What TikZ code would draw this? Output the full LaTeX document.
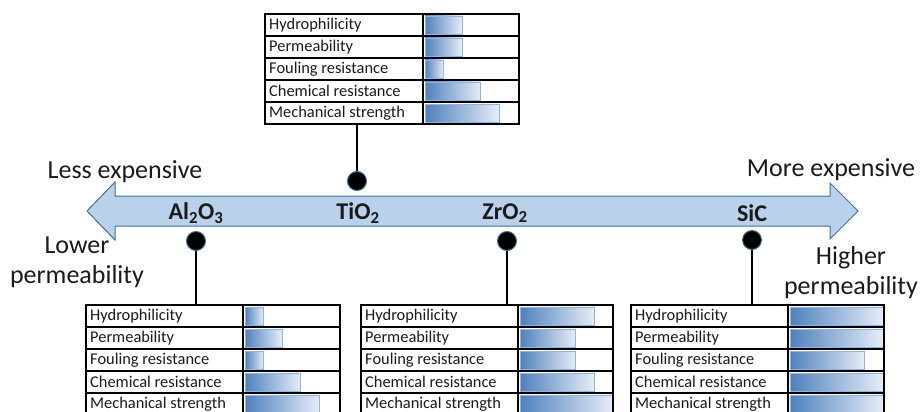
\documentclass[tikz,border=0pt]{standalone}
\usepackage{fontspec}
\setmainfont{Carlito}
\usepackage{xcolor}
\definecolor{afill}{HTML}{B9D1EA}
\definecolor{aedge}{HTML}{41719C}
\definecolor{bdark}{HTML}{4F81BD}
\definecolor{blight}{HTML}{E6EDF7}
\definecolor{bedge}{HTML}{8EB4E3}
\definecolor{ttext}{HTML}{1A1A1A}

\begin{document}
\begin{tikzpicture}[x=1pt, y=-1pt,
	cell/.style = {anchor = west, inner sep = 0pt, text = ttext, font = \fontsize{16.4}{18}\selectfont},
	bar/.style = {draw = bedge, line width = .8pt, left color = bdark, right color = blight},
	grid/.style = {draw = black, line width = 1.3pt},
	dot/.style = {circle, fill = black, draw = aedge, line width = 1pt, minimum size = 19pt, inner sep = 0pt},
	mat/.style = {inner sep = 0pt, text = ttext, font = \fontsize{24}{26}\selectfont\bfseries},
	side/.style = {inner sep = 0pt, text = ttext, align = center, font = \fontsize{26}{30}\selectfont},
	stem/.style = {draw = black, line width = 1.5pt}]
		\useasboundingbox (0,0) rectangle (921,412);
		\clip (0,0) rectangle (921,412);

		% cost / permeability axis
		\draw[draw = aedge, fill = afill, line width = 1pt] (87,211) -- (115,182) -- (115,196) -- (830,196) -- (830,183) -- (858,211) -- (830,239) -- (830,226) -- (115,226) -- (115,240) -- cycle;
		\node[side] (less) at (125,172) {Less expensive};
		\node[side] (more) at (831,170) {More expensive};
		\node[side] (lower) at (77,262) {Lower\\permeability};
		\node[side] (higher) at (851,273) {Higher\\permeability};

		% materials
		\node[mat] (al) at (196,213) {Al\textsubscript{2}O\textsubscript{3}};
		\node[mat] (ti) at (358,213) {TiO\textsubscript{2}};
		\node[mat] (zr) at (505,213) {ZrO\textsubscript{2}};
		\node[mat] (sic) at (752,213) {SiC};

		% TiO2 table
		\foreach \lab/\n [count=\i] in {Hydrophilicity/2, Permeability/2, Fouling resistance/1, Chemical resistance/3, Mechanical strength/4} {
			\node[cell] (ti\i) at (269, 3+22*\i) {\lab};
			\draw[bar] (425, -6+22*\i) rectangle ++(18.6*\n, 18);
		}
		\draw[grid] (265,14) rectangle (519,124);
		\draw[grid] (423,14) -- (423,124);
		\foreach \y in {36,58,80,102} \draw[grid] (265,\y) -- (519,\y);
		\coordinate (tiT) at (357,124);

		% Al2O3 table
		\foreach \lab/\n [count=\i] in {Hydrophilicity/1, Permeability/2, Fouling resistance/1, Chemical resistance/3, Mechanical strength/4} {
			\node[cell] (al\i) at (90, 294+22*\i) {\lab};
			\draw[bar] (245, 285+22*\i) rectangle ++(18.6*\n, 18);
		}
		\draw[grid] (86,305) rectangle (340,415);
		\draw[grid] (243,305) -- (243,415);
		\foreach \y in {327,349,371,393} \draw[grid] (86,\y) -- (340,\y);
		\coordinate (alT) at (196,305);

		% ZrO2 table
		\foreach \lab/\n [count=\i] in {Hydrophilicity/4, Permeability/3, Fouling resistance/3, Chemical resistance/4, Mechanical strength/5} {
			\node[cell] (zr\i) at (365, 294+22*\i) {\lab};
			\draw[bar] (520, 285+22*\i) rectangle ++(18.6*\n, 18);
		}
		\draw[grid] (361,305) rectangle (613,415);
		\draw[grid] (518,305) -- (518,415);
		\foreach \y in {327,349,371,393} \draw[grid] (361,\y) -- (613,\y);
		\coordinate (zrT) at (507,305);

		% SiC table
		\foreach \lab/\n [count=\i] in {Hydrophilicity/5, Permeability/5, Fouling resistance/4, Chemical resistance/5, Mechanical strength/5} {
			\node[cell] (sic\i) at (635, 294+22*\i) {\lab};
			\draw[bar] (790, 285+22*\i) rectangle ++(18.6*\n, 18);
		}
		\draw[grid] (631,305) rectangle (884,415);
		\draw[grid] (788,305) -- (788,415);
		\foreach \y in {327,349,371,393} \draw[grid] (631,\y) -- (884,\y);
		\coordinate (sicT) at (752,305);

		% markers and stems
		\node[dot] (dti) at (357,181) {};
		\node[dot] (dal) at (196,241) {};
		\node[dot] (dzr) at (507,241) {};
		\node[dot] (dsic) at (752,240) {};
		\draw[stem] (dti) -- (tiT);
		\draw[stem] (dal) -- (alT);
		\draw[stem] (dzr) -- (zrT);
		\draw[stem] (dsic) -- (sicT);
	\end{tikzpicture}
\end{document}
